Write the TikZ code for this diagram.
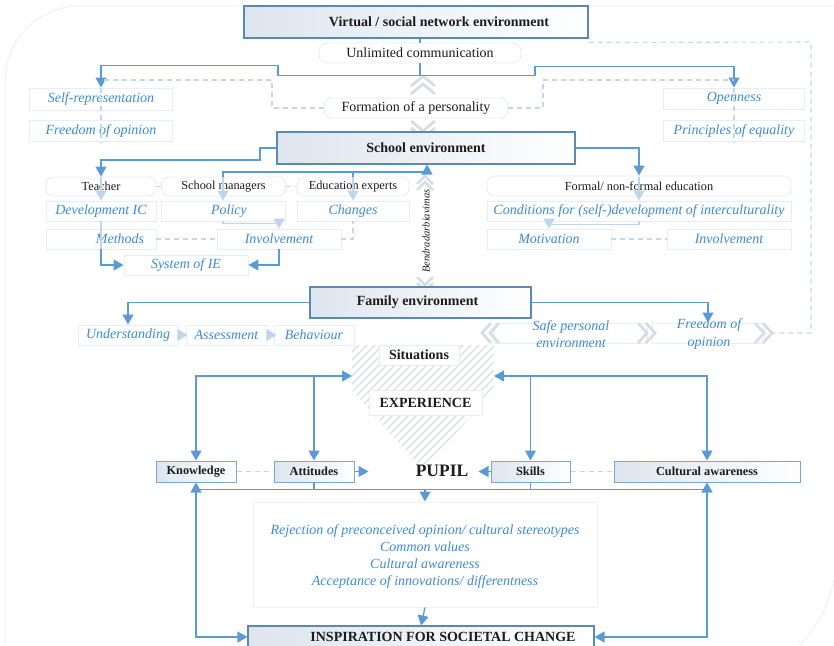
\documentclass[tikz,border=0pt]{standalone}
\usepackage{fontspec}
\setmainfont{Liberation Serif}
\usetikzlibrary{arrows.meta}
\definecolor{boxblue}{HTML}{5A89B3}
\definecolor{rowborder}{HTML}{7FA7CB}
\definecolor{arrowblue}{HTML}{5B9BD5}
\definecolor{lightarrow}{HTML}{BFD5EE}
\definecolor{dashcol}{HTML}{C3D7EC}
\definecolor{textblue}{HTML}{3D8BD4}
\definecolor{lightborder}{HTML}{E6EDF4}
\definecolor{bgcol}{HTML}{EDF0F4}
\definecolor{hatchcol}{HTML}{D9DEE5}
\definecolor{chevcol}{HTML}{D6DDE5}
\definecolor{gradl}{HTML}{DDE5EE}
\definecolor{darktext}{HTML}{1C1C1C}
\begin{document}
\begin{tikzpicture}[x=1pt,y=-1pt,
  bigbox/.style={draw=boxblue, line width=1.1pt, left color=gradl, right color=white, inner sep=0pt, font=\bfseries\fontsize{14}{16}\selectfont, text=darktext},
  rowbox/.style={draw=rowborder, line width=1pt, left color=gradl, right color=white, inner sep=0pt, font=\bfseries\fontsize{12.3}{14}\selectfont, text=darktext, minimum height=21pt},
  lbox/.style={draw=lightborder, line width=0.9pt, fill=white, inner sep=0pt},
  ibox/.style={lbox, text=textblue, font=\itshape\fontsize{14}{16}\selectfont},
  rbox/.style={lbox, rounded corners=7pt, font=\fontsize{12.3}{14}\selectfont, text=darktext},
  nbox/.style={lbox, rounded corners=8pt, font=\fontsize{14}{16}\selectfont, text=darktext},
  wbox/.style={lbox, font=\bfseries\fontsize{14}{16}\selectfont, text=darktext},
  itext/.style={text=textblue, font=\itshape\fontsize{14}{16}\selectfont, inner sep=0pt},
  arr/.style={draw=arrowblue, line width=1.3pt, -{Triangle[width=11pt,length=10pt]}},
  arrboth/.style={draw=arrowblue, line width=1.3pt, {Triangle[width=11pt,length=10pt]}-{Triangle[width=11pt,length=10pt]}},
  larr/.style={draw=lightarrow, line width=1.2pt, -{Triangle[width=11pt,length=10pt]}},
  lline/.style={draw=lightarrow, line width=1.2pt},
  mline/.style={draw=arrowblue, line width=1.3pt},
  dline/.style={draw=dashcol, line width=1.1pt, dash pattern=on 5pt off 4pt},
  chev/.style={draw=chevcol, line width=2.8pt},
  hatch/.style={draw=hatchcol, line width=1.1pt}
]
\useasboundingbox (0,0) rectangle (834,645);
% background outline
\draw[bgcol, line width=1pt, rounded corners=75pt] (845,6) -- (5,6) -- (5,700);
\draw[bgcol, line width=1pt] (705,555) ++(-5:131) arc[start angle=-5, end angle=70, radius=131];

% hatched pentagon
\begin{scope}
\clip (352,345) -- (494,345) -- (494,390) -- (423,470) -- (352,390) -- cycle;
\foreach \i in {200,208,...,500} \draw[hatch] (\i,480) -- ++(150,-150);
\end{scope}

% chevrons behind boxes
\draw[chev] (411,86) -- (423,76) -- (435,86);
\draw[chev] (411,94) -- (423,84) -- (435,94);
\draw[chev] (411,121) -- (423,131) -- (435,121);
\draw[chev] (411,128) -- (423,138) -- (435,128);
\draw[chev] (417,184) -- (425,176) -- (433,184);
\draw[chev] (417,190) -- (425,182) -- (433,190);
\draw[chev] (417,277) -- (425,285) -- (433,277);
\draw[chev] (417,283) -- (425,291) -- (433,283);

% ---------- top level
\node[bigbox, minimum width=344pt, minimum height=32pt] (virt) at (416,22) {\hspace*{46pt}Virtual / social network environment};
\node[nbox, minimum width=202pt, minimum height=20pt] (unl) at (420,53) {Unlimited communication};
\node[nbox, minimum width=184pt, minimum height=20pt] (form) at (416,108) {Formation of a personality};
\node[ibox, minimum width=143pt, minimum height=22pt] (selfrep) at (101,99) {Self-representation};
\node[ibox, minimum width=143pt, minimum height=21pt] (freedom) at (101,131) {Freedom of opinion};
\node[ibox, minimum width=141pt, minimum height=21pt] (open) at (734,98.5) {Openness};
\node[ibox, minimum width=141pt, minimum height=21pt] (princ) at (734,131) {Principles of equality};

% ---------- school
\node[bigbox, minimum width=298pt, minimum height=32pt] (school) at (426,148) {School environment};
\node[rbox, minimum width=110pt, minimum height=19pt] (teacher) at (101,186.5) {Teacher};
\node[rbox, minimum width=124pt, minimum height=19pt] (schmgr) at (223.5,186.5) {School managers};
\node[rbox, minimum width=112pt, minimum height=19pt] (eduexp) at (353,186.5) {Education experts};
\node[ibox, minimum width=110pt, minimum height=20pt] (devic) at (101,211) {Development IC};
\node[ibox, minimum width=124pt, minimum height=20pt] (policy) at (223,211) {\hspace*{12pt}Policy};
\node[ibox, minimum width=112pt, minimum height=20pt] (changes) at (353,211) {Changes};
\node[ibox, minimum width=110pt, minimum height=20pt] (methods) at (101,239) {\hspace*{38pt}Methods};
\node[ibox, minimum width=124pt, minimum height=20pt] (invol) at (279,239) {Involvement};
\node[ibox, minimum width=124pt, minimum height=20pt] (sysie) at (186,265) {System of IE};

\node[rbox, minimum width=304pt, minimum height=20pt] (formal) at (639,186) {Formal/ non-formal education};
\node[ibox, minimum width=304pt, minimum height=20pt] (cond) at (639,211) {Conditions for (self-)development of interculturality};
\node[ibox, minimum width=124pt, minimum height=20pt] (motiv) at (549,239) {Motivation};
\node[ibox, minimum width=124pt, minimum height=20pt] (invol2) at (729,239) {Involvement};

\node[rotate=90, inner sep=0pt, text=darktext, font=\itshape\fontsize{10.5}{12}\selectfont] (bendr) at (426,231) {Bendradarbiavimas};

% ---------- family
\node[bigbox, minimum width=221pt, minimum height=31pt] (family) at (420.5,302.5) {\hspace*{-6pt}Family environment};
\node[ibox, minimum width=100pt, minimum height=20pt] (underst) at (128,335) {Understanding};
\node[ibox, minimum width=81pt, minimum height=20pt] (assess) at (226.5,335) {Assessment};
\node[ibox, minimum width=80pt, minimum height=20pt] (behav) at (314,335) {Behaviour};
\node[ibox, minimum width=153pt, minimum height=20pt] (safe) at (570.5,333) {};
\node[itext, align=center, font=\itshape\fontsize{14}{17.5}\selectfont] (safet) at (571,334) {Safe personal\\environment};
\node[ibox, minimum width=112pt, minimum height=20pt] (freed2) at (708,333) {};
\node[itext, align=center, font=\itshape\fontsize{14}{17.5}\selectfont] (freed2t) at (709,334) {Freedom of\\opinion};

% ---------- experience / pupil
\node[wbox, minimum width=80pt, minimum height=20pt] (sit) at (419,355) {Situations};
\node[wbox, minimum width=113pt, minimum height=25pt] (exp) at (425.5,402.5) {EXPERIENCE};
\node[rowbox, minimum width=80pt] (know) at (196,471.5) {Knowledge};
\node[rowbox, minimum width=80pt] (att) at (314,471.5) {Attitudes};
\node[rowbox, minimum width=79pt] (skills) at (530.5,471.5) {Skills};
\node[rowbox, minimum width=186pt] (cult) at (707,471.5) {Cultural awareness};
\node[inner sep=0pt, text=darktext, font=\bfseries\fontsize{17.5}{20}\selectfont] (pupil) at (442,471) {PUPIL};
\node[draw=bgcol, line width=0.9pt, fill=white, inner sep=0pt, minimum width=344pt, minimum height=105pt] (tbox) at (425,554.5) {};
\node[itext, align=center, font=\itshape\fontsize{14}{17}\selectfont] (tboxt) at (425,557) {Rejection of preconceived opinion/ cultural stereotypes\\Common values\\Cultural awareness\\Acceptance of innovations/ differentness};
\node[bigbox, minimum width=346pt, minimum height=22pt] (insp) at (421,637) {\hspace*{44pt}INSPIRATION FOR SOCIETAL CHANGE};

% ---------- connectors: top
\coordinate (c420) at (420,75.5);
\draw[mline] (virt.south -| unl.north) -- (unl.north);
\draw[arr] (unl.south) -- (c420) -- (278,75.5) -- (278,65.5) -- (101,65.5) -- (selfrep.north);
\draw[arr] (c420) -- (535,75.5) -- (535,66.5) -- (734,66.5) -- (open.north);
\draw[dline] (form.west) -- (272,108) -- (272,80) -- (101,80);
\draw[dline] (form.east) -- (543,108) -- (543,80) -- (734,80);
\draw[dline] (selfrep.north) -- (freedom.south);
\draw[dline] (open.north) -- (princ.south);
\draw[dline] (virt.south east) ++(0,4) -- (811,42) -- (811,333) -- (772,333);

% school connectors
\coordinate (c427) at (427,172);
\draw[arr] (school.west) -- (260,148) -- (260,160) -- (101,160) -- (teacher.north);
\draw[larr] (101,177) -- (devic.north);
\draw[lline] (devic.south) -- (methods.south);
\draw[arr] (methods.south) -- (101,265) -- (sysie.west);
\draw[mline] (223,177) -- (223,172) -- (353,172) -- (353,177);
\draw[arr] (353,172) -- (c427) -- (school.south -| c427);
\draw[larr] (223,177) -- (policy.north);
\draw[larr] (353,177) -- (changes.north);
\draw[larr] (policy.south) -- (223,223.5) -- (279,223.5) -- (invol.north);
\draw[arr] (invol.south) -- (279,265) -- (sysie.east);
\draw[dline] (teacher.east) -- (schmgr.west);
\draw[dline] (schmgr.east) -- (eduexp.west);
\draw[dline] (methods.east) -- (invol.west);
\draw[dline] (invol.east) -- (353,239) -- (changes.south);

\draw[arr] (school.east) -- (639,148) -- (formal.north);
\draw[larr] (639,177) -- (cond.north);
\draw[larr] (cond.south) -- (639,224.5) -- (549,224.5) -- (motiv.north);
\draw[dline] (motiv.east) -- (invol2.west);

% family connectors
\draw[arr] (family.west) -- (128,302.5) -- (underst.north);
\draw[arr] (family.east) -- (708,302.5) -- (freed2.north);
\fill[lightarrow] (underst.east) ++(-1,-6) -- ++(10,6) -- ++(-10,6) -- cycle;
\fill[lightarrow] (assess.east) ++(-1,-6) -- ++(10,6) -- ++(-10,6) -- cycle;
\draw[chev] (491,323) -- (482,333) -- (491,343);
\draw[chev] (499,323) -- (490,333) -- (499,343);
\draw[chev] (638,323) -- (647,333) -- (638,343);
\draw[chev] (646,323) -- (655,333) -- (646,343);
\draw[chev] (755,323) -- (764,333) -- (755,343);
\draw[chev] (763,323) -- (772,333) -- (763,343);

% experience connectors
\coordinate (hl) at (352,376);
\coordinate (hr) at (494,376);
\coordinate (bl) at (196,489.5);
\draw[arrboth] (know.north) |- (hl);
\draw[arr] (att.north |- hl) -- (att.north);
\draw[arrboth] (cult.north) |- (hr);
\draw[arr] (skills.north |- hr) -- (skills.north);
\draw[arr] (att.east) -- ++(14,0);
\draw[arr] (skills.west) -- ++(-12,0);
\draw[dline] (know.east) -- (att.west);
\draw[dline] (skills.east) -- (cult.west);
\draw[mline] (att.south) -- (att.south |- bl);
\draw[mline] (skills.south) -- (skills.south |- bl);
\draw[mline] (know.south |- bl) -- (cult.south |- bl);
\draw[arr] (tbox.north |- bl) -- (tbox.north);
\draw[arrboth] (know.south) |- (insp.west);
\draw[arrboth] (cult.south) |- (insp.east);
\draw[arr] (tbox.south) -- (insp.north);
\end{tikzpicture}
\end{document}
